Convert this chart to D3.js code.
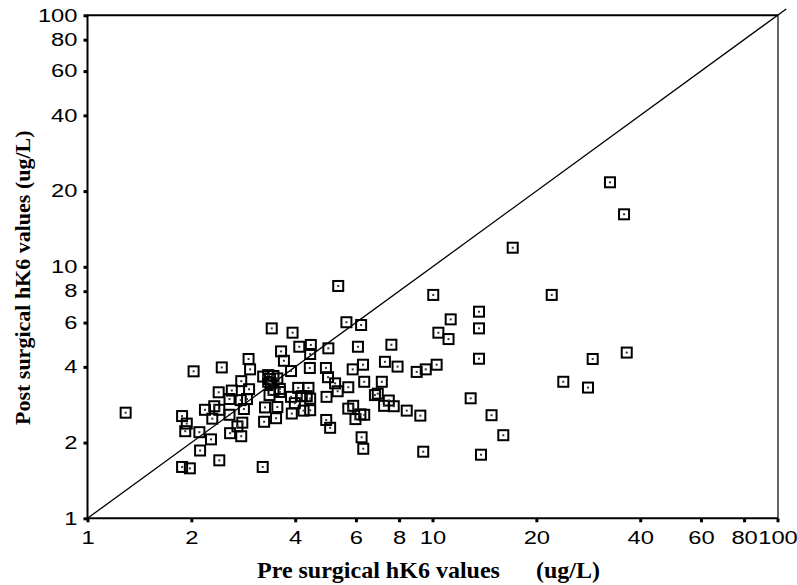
<!DOCTYPE html>
<html>
<head>
<meta charset="utf-8">
<script src="https://cdn.jsdelivr.net/npm/d3@7"></script>
<style>
  html, body { margin: 0; padding: 0; background: #fff; }
  svg { display: block; }
</style>
</head>
<body>
<svg id="chart" width="797" height="585"></svg>
<script>
// Pre surgical hK6 values (ug/L)
const preValues = [
  1.29, 3.42, 3.93, 5.63, 6.21, 4.11, 4.44, 4.99, 6.08, 7.60,
  3.64, 4.42, 2.93, 3.71, 7.28, 7.92, 2.03, 2.45, 2.96, 3.89,
  4.41, 4.91, 5.87, 6.29, 4.98, 5.22, 6.34, 7.13, 2.79, 3.34,
  3.55, 3.34, 2.40, 2.62, 2.94, 2.58, 2.78, 2.90, 3.37, 3.61,
  3.89, 4.08, 4.37, 4.18, 4.42, 3.99, 4.93, 5.31, 5.70, 6.81,
  6.94, 7.47, 7.72, 7.24, 4.23, 4.42, 3.27, 3.55, 3.91, 3.52,
  3.25, 2.84, 2.19, 2.33, 2.41, 2.30, 2.58, 1.88, 1.94, 1.92,
  2.11, 2.28, 2.12, 2.81, 2.72, 2.59, 2.79, 2.41, 1.88, 1.98,
  3.22, 4.92, 5.05, 5.70, 5.89, 5.98, 6.18, 6.34, 6.23, 6.30,
  3.23, 3.46, 3.40, 3.46, 3.61, 4.32, 10.40, 9.00, 9.56, 10.28,
  8.42, 9.22, 9.40, 10.05, 22.16, 17.08, 32.69, 35.91, 5.33, 13.64,
  11.29, 13.64, 11.13, 13.64, 29.13, 36.56, 23.94, 28.23, 12.90, 14.83,
  16.04, 13.82, 3.38
];
// Post surgical hK6 values (ug/L)
const postValues = [
  2.63, 5.69, 5.47, 6.02, 5.87, 4.81, 4.89, 4.74, 4.81, 4.90,
  4.61, 4.50, 4.30, 4.23, 4.19, 4.01, 3.84, 3.98, 3.91, 3.85,
  3.96, 3.96, 3.91, 4.08, 3.64, 3.44, 3.49, 3.49, 3.51, 3.71,
  3.60, 3.49, 3.17, 3.22, 3.26, 2.98, 2.95, 2.98, 3.09, 3.18,
  3.04, 3.30, 3.30, 3.06, 2.99, 2.87, 3.04, 3.20, 3.32, 3.09,
  3.13, 2.94, 2.79, 2.80, 2.68, 2.69, 2.76, 2.77, 2.61, 2.50,
  2.42, 2.72, 2.70, 2.79, 2.70, 2.49, 2.58, 2.55, 2.38, 2.22,
  2.20, 2.06, 1.86, 2.40, 2.32, 2.18, 2.12, 1.70, 1.60, 1.58,
  1.60, 2.46, 2.29, 2.73, 2.80, 2.48, 2.59, 2.58, 2.10, 1.89,
  3.66, 3.68, 3.44, 3.24, 3.27, 3.06, 5.47, 3.82, 3.91, 4.08,
  2.68, 2.56, 1.84, 7.73, 7.73, 11.91, 21.68, 16.17, 8.39, 6.63,
  6.18, 5.69, 5.16, 4.31, 4.30, 4.56, 3.49, 3.31, 3.00, 2.57,
  2.14, 1.79, 3.58
];
const xTicks = [1, 2, 4, 6, 8, 10, 20, 40, 60, 80, 100];
const yTicks = [1, 2, 4, 6, 8, 10, 20, 40, 60, 80, 100];
const identityLine = [1, 106];

const svg = d3.select("#chart");
const x = d3.scaleLog().domain([1, 100]).range([87.5, 777.5]);
const y = d3.scaleLog().domain([1, 100]).range([518.3, 15.3]);

// frame (top & right)
svg.append("line").attr("x1", 87).attr("x2", 778).attr("y1", 15.3).attr("y2", 15.3)
  .attr("stroke", "#000").attr("stroke-width", 2);
svg.append("line").attr("x1", 778).attr("x2", 778).attr("y1", 15).attr("y2", 518)
  .attr("stroke", "#333").attr("stroke-width", 1.5);

// axes
const yAxis = d3.axisLeft(y).tickValues(yTicks).tickFormat(d3.format("d")).tickSize(4).tickPadding(6);
const xAxis = d3.axisBottom(x).tickValues(xTicks).tickFormat(d3.format("d")).tickSize(4).tickPadding(8);

const gy = svg.append("g").attr("transform", "translate(87.5,0)").call(yAxis);
const gx = svg.append("g").attr("transform", "translate(0,518.3)").call(xAxis);

[gx, gy].forEach(g => {
  g.select(".domain").attr("stroke", "#000").attr("stroke-width", 2);
  g.selectAll(".tick line").attr("stroke", "#000").attr("stroke-width", 3);
  g.selectAll(".tick text")
    .attr("fill", "#000")
    .style("font-family", "'Liberation Sans', Arial, Helvetica, sans-serif")
    .style("font-size", "18px")
    .attr("lengthAdjust", "spacingAndGlyphs")
    .attr("textLength", d => String(d).length * 13.2);
});
gy.select(".domain").attr("d", "M0,518.3V15.3");
gx.select(".domain").attr("d", "M87.5,0H778");
gx.selectAll(".tick text").attr("dy", "0.74em");

// identity line
svg.append("line")
  .attr("x1", x(identityLine[0])).attr("y1", y(identityLine[0]))
  .attr("x2", x(identityLine[1])).attr("y2", y(identityLine[1]))
  .attr("stroke", "#000").attr("stroke-width", 1.3);

// points
const data = preValues.map((v, i) => ({ pre: v, post: postValues[i] }));
const pts = svg.append("g");
pts.selectAll("rect.box").data(data).enter().append("rect")
  .attr("class", "box")
  .attr("x", d => x(d.pre) - 5).attr("y", d => y(d.post) - 5)
  .attr("width", 10).attr("height", 10)
  .attr("fill", "#fff").attr("fill-opacity", 0)
  .attr("stroke", "#000").attr("stroke-width", 2);
pts.selectAll("rect.dot").data(data).enter().append("rect")
  .attr("class", "dot")
  .attr("x", d => x(d.pre) - 1).attr("y", d => y(d.post) - 1)
  .attr("width", 2).attr("height", 2)
  .attr("fill", "#333");

// axis titles
svg.append("text")
  .attr("x", 257).attr("y", 578)
  .style("font-family", "'Liberation Serif', 'Times New Roman', Times, serif")
  .style("font-size", "24px").style("font-weight", "bold")
  .attr("fill", "#000")
  .text("Pre surgical hK6 values")
  .append("tspan").attr("dx", 36).text("(ug/L)");

svg.append("text")
  .attr("transform", "translate(30,425) rotate(-90)")
  .attr("x", 0).attr("y", 0)
  .style("font-family", "'Liberation Serif', 'Times New Roman', Times, serif")
  .style("font-size", "22px").style("font-weight", "bold")
  .attr("fill", "#000")
  .text("Post surgical hK6 values (ug/L)");
</script>
</body>
</html>
